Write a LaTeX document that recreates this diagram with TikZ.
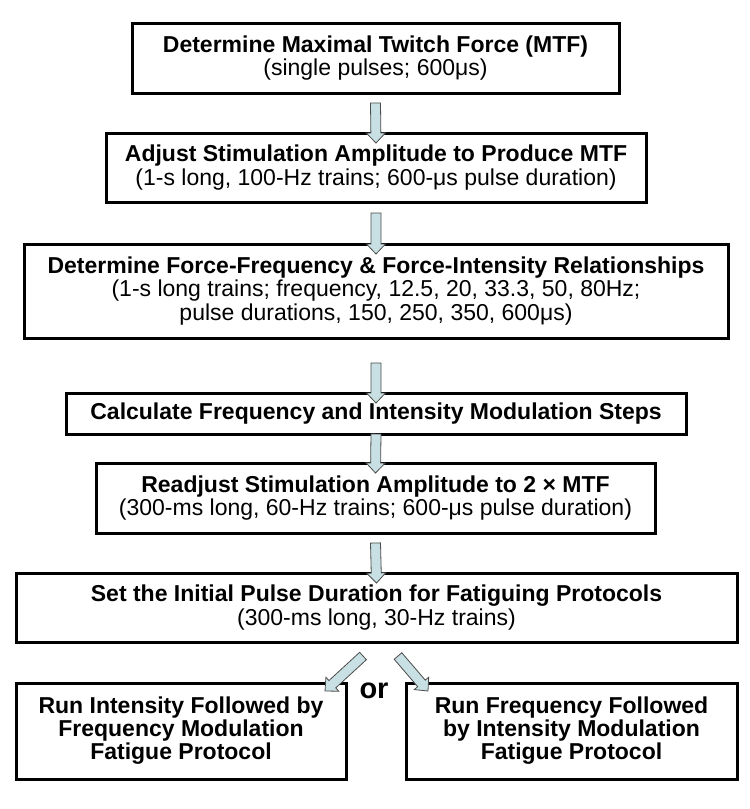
\documentclass[tikz,border=0pt]{standalone}
\usepackage{fontspec}
\setmainfont{Liberation Sans}
\usetikzlibrary{calc}
\definecolor{arrowfill}{RGB}{200,224,228}
\newcommand\blockarrow[2]{%
  \coordinate (hb) at ($(#2)!10pt!(#1)$);
  \draw[barrow] ($(#1)!5pt!90:(#2)$) -- ($(hb)!5pt!90:(#2)$) -- ($(hb)!9.5pt!90:(#2)$) -- (#2)
     -- ($(hb)!9.5pt!-90:(#2)$) -- ($(hb)!5pt!-90:(#2)$) -- ($(#1)!5pt!-90:(#2)$) -- cycle;
}
\begin{document}
\begin{tikzpicture}[x=1pt,y=-1pt,
  box/.style={draw, line width=3pt, rectangle, inner sep=0pt, outer sep=0pt, align=center,
    font=\fontsize{23}{23.5}\selectfont, fill=white},
  barrow/.style={fill=arrowfill, draw=black!70, line width=0.8pt, line join=miter}]
\useasboundingbox (0,0) rectangle (750,809);
\fill[white] (0,0) rectangle (750,809);

\node[box, minimum width=487pt, minimum height=70pt] (b1) at (375.5,58)
  {\textbf{Determine Maximal Twitch Force (MTF)}\\(single pulses; 600μs)};
\node[box, minimum width=540pt, minimum height=69pt] (b2) at (376,167.5)
  {\textbf{Adjust Stimulation Amplitude to Produce MTF}\\(1-s long, 100-Hz trains; 600-μs pulse duration)};
\node[box, minimum width=704pt, minimum height=94pt] (b3) at (376,291)
  {\textbf{Determine Force-Frequency \& Force-Intensity Relationships}\\(1-s long trains; frequency, 12.5, 20, 33.3, 50, 80Hz;\\pulse durations, 150, 250, 350, 600μs)};
\node[box, minimum width=620pt, minimum height=41pt] (b4) at (376,413.5)
  {\textbf{Calculate Frequency and Intensity Modulation Steps}};
\node[box, minimum width=559pt, minimum height=70pt] (b5) at (375.5,498)
  {\textbf{Readjust Stimulation Amplitude to 2 × MTF}\\(300-ms long, 60-Hz trains; 600-μs pulse duration)};
\node[box, minimum width=721pt, minimum height=69pt] (b6) at (376.5,607.5)
  {\textbf{Set the Initial Pulse Duration for Fatiguing Protocols}\\(300-ms long, 30-Hz trains)};
\node[box, minimum width=330pt, minimum height=96pt, font=\fontsize{23}{23}\selectfont\bfseries] (b7) at (181,731)
  {Run Intensity Followed by\\Frequency Modulation\\Fatigue Protocol};
\node[box, minimum width=331pt, minimum height=96pt, font=\fontsize{23}{23}\selectfont\bfseries] (b8) at (571.5,731)
  {Run Frequency Followed\\by Intensity Modulation\\Fatigue Protocol};
\node[anchor=base, inner sep=0pt, font=\fontsize{29}{29}\selectfont\bfseries] (or) at (374,698) {or};

\coordinate (t1) at ($(b1.south)+(0,10)$);
\coordinate (h1) at ($(b2.north)+(0,10)$);
\coordinate (t2) at ($(b2.south)+(0,11)$);
\coordinate (h2) at ($(b3.north)+(0,10)$);
\coordinate (t3) at ($(b3.south)+(0,25)$);
\coordinate (h3) at ($(b4.north)+(0,10)$);
\coordinate (t4) at ($(b4.south)+(0,0)$);
\coordinate (h4) at ($(b5.north)+(0,10)$);
\coordinate (t5) at ($(b5.south)+(0,10)$);
\coordinate (h5) at ($(b6.north)+(0,10)$);
\coordinate (t6) at ($(b6.south)+(-13.5,14)$);
\coordinate (h6) at ($(b7.north east)+(-21,8)$);
\coordinate (t7) at ($(b6.south)+(21.5,14)$);
\coordinate (h7) at ($(b8.north west)+(22,8)$);

\blockarrow{t1}{h1}
\blockarrow{t2}{h2}
\blockarrow{t3}{h3}
\blockarrow{t4}{h4}
\blockarrow{t5}{h5}
\blockarrow{t6}{h6}
\blockarrow{t7}{h7}
\end{tikzpicture}
\end{document}
